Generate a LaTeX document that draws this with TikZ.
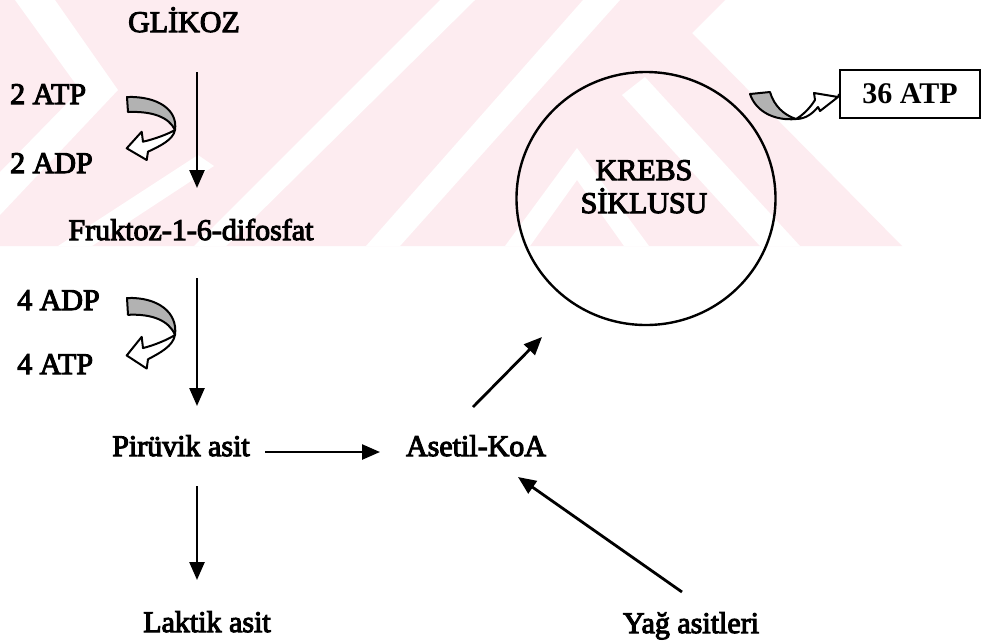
\documentclass[tikz,border=0pt]{standalone}
\usepackage{fontspec}
\setmainfont{Liberation Serif}
\newfontfamily\scanserif{Liberation Serif}[FakeBold=3.5]
\usetikzlibrary{arrows.meta,shapes.geometric}

\definecolor{wmpink}{RGB}{253,236,240}

\tikzset{
  lbl/.style={font=\scanserif\fontsize{30}{33}\selectfont, inner sep=0pt, anchor=base},
  flow/.style={line width=2.5pt, -{Triangle[length=18pt,width=15pt]}},
  ribbon/.style={draw, line width=2pt, fill=black!30, line join=round},
  hollow/.style={draw, line width=2pt, fill=white, line join=round},
  swirl/.pic={
    \path[ribbon] (0,0) .. controls (31,-1) and (51,13) .. (48,33)
                        .. controls (42,20) and (25,14) .. (1,15) -- cycle;
    \path[hollow] (48,33) .. controls (46,43) and (33,49) .. (21,54.7)
                  -- (19.7,63) -- (-0.3,51.3) -- (14.7,34.7) -- (16,44.7)
                  .. controls (28,42) and (41,37) .. (48,33) -- cycle;
  }
}

\begin{document}
\begin{tikzpicture}[x=1pt,y=-1pt]
\useasboundingbox (0,0) rectangle (984,641);
\fill[white] (0,0) rectangle (984,641);

% faint background stripes in the upper band
\fill[wmpink] (0,0) -- (725,0) -- (692,33) -- (902,246) -- (0,246) -- cycle;
\fill[white] (15,0) -- (55,0) -- (118,90) -- (0,215) -- (0,172) -- (80,90) -- cycle;
\fill[white] (440,0) -- (475,0) -- (226,246) -- (194,246) -- cycle;
\fill[white] (583,0) -- (620,0) -- (400,246) -- (366,246) -- cycle;
\fill[white] (198,155) -- (214,166) -- (92,246) -- (58,246) -- cycle;
\fill[white] (577,148) -- (649,246) -- (624,246) -- (577,180) -- (530,246) -- (505,246) -- cycle;
\fill[white] (622,95) -- (645,77) -- (800,246) -- (760,246) -- cycle;

% labels
\node[lbl] (glikoz) at (184,32) {GLİKOZ};
\node[lbl,anchor=base west] (atpA) at (10,104) {2 ATP};
\node[lbl,anchor=base west] (adpA) at (10,173) {2 ADP};
\node[lbl] (fruktoz) at (191,240) {Fruktoz-1-6-difosfat};
\node[lbl,anchor=base west] (adpB) at (17,310) {4 ADP};
\node[lbl,anchor=base west] (atpB) at (17,374) {4 ATP};
\node[lbl] (piruvik) at (181,456) {Pirüvik asit};
\node[lbl] (asetil) at (476,456) {Asetil-KoA};
\node[lbl] (laktik) at (207,632) {Laktik asit};
\node[lbl] (yag) at (691,633) {Yağ asitleri};

% Krebs cycle
\node[draw, ellipse, line width=2.4pt, inner sep=0pt,
      minimum width=259pt, minimum height=253pt] (krebs) at (646,198.5) {};
\node[lbl] (krebsA) at (644,180) {KREBS};
\node[lbl] (krebsB) at (644,213) {SİKLUSU};

% energy yield box
\node[draw, line width=2.2pt, minimum width=140pt, minimum height=48pt, inner sep=0pt,
      font=\bfseries\fontsize{30}{33}\selectfont] (atp36) at (910,94) {36 ATP};

% ATP/ADP exchange swirls
\pic at (127,97) {swirl};
\pic[yscale=1.12] at (127,298) {swirl};

% swirl leading into the box
\path[ribbon] (750,94) -- (770,92) .. controls (774,106) and (784,115) .. (796,119)
              .. controls (775,121) and (756,112) .. (750,94) -- cycle;
\path[hollow] (796,119) .. controls (806,119) and (813,113) .. (818,107)
              -- (820,111) -- (838,97) -- (814,93) -- (815,100)
              .. controls (810,108) and (803,115) .. (796,119) -- cycle;
\draw[line width=1.8pt] (838,97) -- (atp36.west |- 0,94);

% pathway arrows
\coordinate (g1) at (197,72);  \coordinate (g2) at (197,188);
\coordinate (g3) at (197,278); \coordinate (g4) at (197,406);
\coordinate (g5) at (197,486); \coordinate (g6) at (197,580);
\coordinate (h1) at (265,452); \coordinate (h2) at (380,452);
\coordinate (k1) at (473,407); \coordinate (k2) at (542,337);
\coordinate (y1) at (682,592); \coordinate (y2) at (518,477);

\draw[flow] (g1) -- (g2);
\draw[flow] (g3) -- (g4);
\draw[flow] (g5) -- (g6);
\draw[flow] (h1) -- (h2);
\draw[flow, line width=2.8pt] (k1) -- (k2);
\draw[flow, line width=2.8pt] (y1) -- (y2);
\end{tikzpicture}
\end{document}
